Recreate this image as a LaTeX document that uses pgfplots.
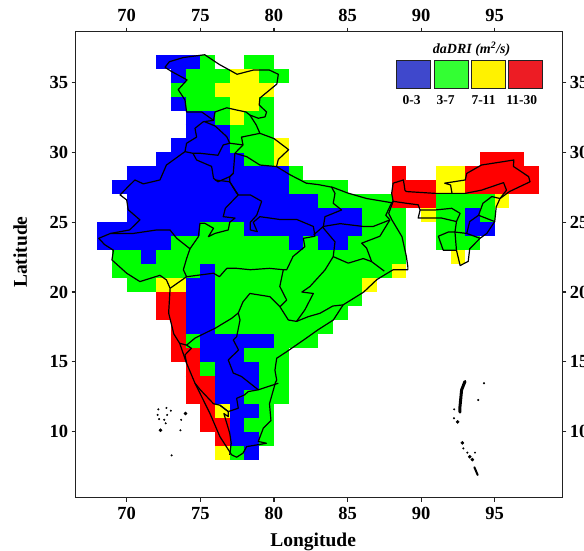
\documentclass[border=0pt]{standalone}
\usepackage{pgfplots}
\pgfplotsset{compat=1.18}
\usepackage{fontspec}
\setmainfont{Liberation Serif}
\definecolor{axc}{HTML}{222222}
\definecolor{lgb}{HTML}{3F48CC}
\definecolor{lgg}{HTML}{33FF33}
\definecolor{lgy}{HTML}{FFF200}
\definecolor{lgr}{HTML}{ED1C24}
\pgfplotsset{
 base/.style={scale only axis,width=486.7pt,height=466pt,at={(0,0)},
  xmin=66.53,xmax=99.59,ymin=5.27,ymax=38.65,
  xtick={70,75,80,85,90,95},ytick={10,15,20,25,30,35},
  tick align=outside,major tick length=4pt,
  axis line style={line width=1.5pt,axc},
  every tick/.style={line width=1.2pt,axc},
  tick label style={font=\fontsize{18.5}{20}\selectfont\bfseries,/pgf/number format/assume math mode=true},
  xtick pos=both,ytick pos=both},
 cell/.style={line width=14.1pt,line cap=butt,no markers,unbounded coords=jump},
 bd/.style={black,line width=1.2pt,no markers,line join=round},
}
\begin{document}
\begin{tikzpicture}
\begin{axis}[base,xticklabel pos=lower,yticklabel pos=left,
  xticklabel style={yshift=-2pt},
  xlabel={\fontsize{19.5}{20}\selectfont\bfseries Longitude},
  ylabel={\fontsize{19.5}{20}\selectfont\bfseries Latitude},
  xlabel style={at={(axis description cs:0.488,0)},anchor=north,yshift=-32pt},
  ylabel style={at={(axis description cs:0,0.527)},anchor=south,yshift=45pt}]
% blue
\addplot[cell,draw={rgb,255:red,0;green,0;blue,255}] coordinates {
(72,36.5)(75,36.5)(nan,nan)(73,35.5)(74,35.5)(nan,nan)(73,33.5)(74,33.5)(nan,nan)
(74,32.5)(76,32.5)(nan,nan)(74,31.5)(77,31.5)(nan,nan)(73,30.5)(77,30.5)(nan,nan)
(72,29.5)(78,29.5)(nan,nan)(70,28.5)(81,28.5)(nan,nan)(69,27.5)(81,27.5)(nan,nan)
(70,26.5)(83,26.5)(nan,nan)(70,25.5)(86,25.5)(nan,nan)(68,24.5)(75,24.5)(nan,nan)
(78,24.5)(86,24.5)(nan,nan)(68,23.5)(73,23.5)(nan,nan)(81,23.5)(82,23.5)(nan,nan)
(83,23.5)(85,23.5)(nan,nan)(71,22.5)(72,22.5)(nan,nan)(75,21.5)(76,21.5)(nan,nan)
(74,20.5)(76,20.5)(nan,nan)(74,19.5)(76,19.5)(nan,nan)(74,18.5)(76,18.5)(nan,nan)
(74,17.5)(76,17.5)(nan,nan)(75,16.5)(80,16.5)(nan,nan)(75,15.5)(78,15.5)(nan,nan)
(76,14.5)(79,14.5)(nan,nan)(76,13.5)(79,13.5)(nan,nan)(76,12.5)(78,12.5)(nan,nan)
(77,11.5)(79,11.5)(nan,nan)(77,10.5)(78,10.5)(nan,nan)(77,9.5)(79,9.5)(nan,nan)
(78,8.5)(79,8.5)(nan,nan)(93,25.5)(94,25.5)(nan,nan)(93,24.5)(95,24.5)};
% green
\addplot[cell,draw={rgb,255:red,0;green,255;blue,0}] coordinates {
(75,36.5)(76,36.5)(nan,nan)(78,36.5)(80,36.5)(nan,nan)(74,35.5)(77,35.5)(nan,nan)
(79,35.5)(81,35.5)(nan,nan)(73,34.5)(76,34.5)(nan,nan)(74,33.5)(77,33.5)(nan,nan)
(79,33.5)(80,33.5)(nan,nan)(76,32.5)(77,32.5)(nan,nan)(78,32.5)(80,32.5)(nan,nan)
(77,31.5)(80,31.5)(nan,nan)(77,30.5)(80,30.5)(nan,nan)(78,29.5)(80,29.5)(nan,nan)
(81,28.5)(82,28.5)(nan,nan)(81,27.5)(85,27.5)(nan,nan)(83,26.5)(88,26.5)(nan,nan)
(91,26.5)(95,26.5)(nan,nan)(86,25.5)(89,25.5)(nan,nan)(91,25.5)(93,25.5)(nan,nan)
(94,25.5)(95,25.5)(nan,nan)(75,24.5)(78,24.5)(nan,nan)(86,24.5)(89,24.5)(nan,nan)
(91,24.5)(93,24.5)(nan,nan)(73,23.5)(81,23.5)(nan,nan)(82,23.5)(83,23.5)(nan,nan)
(85,23.5)(89,23.5)(nan,nan)(91,23.5)(94,23.5)(nan,nan)(69,22.5)(71,22.5)(nan,nan)
(72,22.5)(89,22.5)(nan,nan)(69,21.5)(75,21.5)(nan,nan)(76,21.5)(88,21.5)(nan,nan)
(70,20.5)(72,20.5)(nan,nan)(76,20.5)(86,20.5)(nan,nan)(76,19.5)(86,19.5)(nan,nan)
(76,18.5)(85,18.5)(nan,nan)(76,17.5)(84,17.5)(nan,nan)(74,16.5)(75,16.5)(nan,nan)
(80,16.5)(83,16.5)(nan,nan)(78,15.5)(81,15.5)(nan,nan)(75,14.5)(76,14.5)(nan,nan)
(79,14.5)(81,14.5)(nan,nan)(79,13.5)(81,13.5)(nan,nan)(78,12.5)(81,12.5)(nan,nan)
(79,11.5)(80,11.5)(nan,nan)(78,10.5)(80,10.5)(nan,nan)(79,9.5)(80,9.5)(nan,nan)
(77,8.5)(78,8.5)};
% yellow
\addplot[cell,draw={rgb,255:red,255;green,255;blue,0}] coordinates {
(77,35.5)(79,35.5)(nan,nan)(76,34.5)(80,34.5)(nan,nan)(77,33.5)(79,33.5)(nan,nan)
(77,32.5)(78,32.5)(nan,nan)(80,30.5)(81,30.5)(nan,nan)(80,29.5)(81,29.5)(nan,nan)
(91,28.5)(93,28.5)(nan,nan)(91,27.5)(93,27.5)(nan,nan)(95,26.5)(96,26.5)(nan,nan)
(90,25.5)(91,25.5)(nan,nan)(92,22.5)(93,22.5)(nan,nan)(88,21.5)(89,21.5)(nan,nan)
(72,20.5)(74,20.5)(nan,nan)(86,20.5)(87,20.5)(nan,nan)(76,11.5)(77,11.5)(nan,nan)
(76,8.5)(77,8.5)};
% red
\addplot[cell,draw={rgb,255:red,255;green,0;blue,0}] coordinates {
(94,29.5)(97,29.5)(nan,nan)(88,28.5)(89,28.5)(nan,nan)(93,28.5)(98,28.5)(nan,nan)
(88,27.5)(91,27.5)(nan,nan)(93,27.5)(98,27.5)(nan,nan)(88,26.5)(91,26.5)(nan,nan)
(72,19.5)(74,19.5)(nan,nan)(72,18.5)(74,18.5)(nan,nan)(73,17.5)(74,17.5)(nan,nan)
(73,16.5)(74,16.5)(nan,nan)(73,15.5)(75,15.5)(nan,nan)(74,14.5)(75,14.5)(nan,nan)
(74,13.5)(76,13.5)(nan,nan)(74,12.5)(76,12.5)(nan,nan)(75,11.5)(76,11.5)(nan,nan)
(75,10.5)(77,10.5)(nan,nan)(76,9.5)(77,9.5)};
% outer boundary, west and north
\addplot[bd] coordinates {(72.6,36.1)(73.05,35.8)(74.1,35.2)(73.5,34.5)(73.96,33.76)(74.07,32.9)(75.1,32.9)(75.9,32.3)(75.2,32.2)(74.64,31.73)(74.75,31.1)(74.07,30.66)(73.96,30.06)(72.7,29.1)(72.26,28.03)(71.13,27.75)(70.56,28.03)(70.1,27.55)(69.55,26.96)(70,26.6)(70.1,25.9)(70.9,25.17)(70.2,24.45)(68.9,24.2)(68.1,23.85)(68.5,23.4)(69.1,23)(69,22.3)(70,21.35)(70.9,20.75)(72.26,21.2)(72.7,20.87)(72.95,20.27)};
\addplot[bd] coordinates {(72.6,36.1)(72.9,36.5)(73.85,36.8)(75.3,37)(76.3,36.3)(77.5,35.6)(78.6,35.9)(79.7,35.9)(80.3,35.6)(80.2,34.9)(79.05,33.9)(79,33.4)(79.5,32.9)(79.4,32.55)(78.94,32.45)(78.37,32.68)(78.1,32.9)(77.47,33.04)(76.8,33.2)(76,32.9)(75.9,32.3)};
% west coast and south
\addplot[bd] coordinates {(72.95,20.27)(72.85,18.5)(73.2,17)(73.6,16.33)(74.07,14.9)(74.64,13.47)(75.65,11.32)(76.33,9.65)(77.13,8.34)(77.47,8.17)(77.9,8.46)(78.15,8.93)(79.5,9.17)(78.94,9.3)(79.28,10.25)(79.8,10.8)(79.7,12)(80.1,13.5)(80.19,13.7)(80.07,14.4)(80.19,15.26)(80.87,15.73)(82.2,16.7)(83,17.3)(84.04,18)(84.7,19.08)(86.1,20)(87,20.9)(88.1,21.6)(89.1,21.6)(89.1,21.8)(89,22.54)(88.7,23.97)(88,25.2)(87.8,25.64)(88.1,26.5)(88,27.07)(88.1,27.8)(88.8,28.03)(88.9,27.3)(89,27.2)(90.95,27.07)(92.1,27.07)(92,27.67)(91.6,27.8)(93,28.03)(93.1,28.5)(94.1,29.1)(96.3,29.46)(96.27,29)(97.3,28.27)(97.4,27.9)(96,27.2)(95.36,26.7)(95.1,26.1)(95,25.05)(94.46,24.2)(94,23.85)(93.3,23.1)(93.2,22.2)(92.65,21.9)(92.4,23)(91.5,23)(91.17,24)(91.85,24.3)(92.3,24.3)(92.4,25.05)(91.4,25.3)(89.8,25.3)(89.93,25.88)(89.8,26.25)(89,26.36)(88.1,26.5)};
% Nepal border
\addplot[bd] coordinates {(80.18,28.99)(81.1,28.4)(82.2,27.8)(83,27.7)(84,27.5)(85,27.1)(86.3,26.7)(88,26.4)(88.1,26.5)};
% Uttarakhand
\addplot[bd] coordinates {(78.37,32.68)(78.8,31.97)(79.05,31.37)(80,31)(81,30.2)(80.3,29.5)(80.18,28.99)(79.05,29.1)(78.15,29.7)(77.35,29.94)(77.9,30.54)(77.8,31.1)(79.05,31.37)};
% HP, Punjab, Haryana
\addplot[bd] coordinates {(75.3,32.2)(76,31.9)(76.8,31.13)(77,30.66)(76.56,30.54)(76.2,29.8)(75,29.94)(74.5,29.94)(73.96,30.06)};
\addplot[bd] coordinates {(77,30.66)(77.9,30.54)};
\addplot[bd] coordinates {(74.5,29.94)(74.75,29.46)(75.77,29)(75.9,28.15)(76.2,27.9)(77,28.27)(77.24,28.5)(77.35,29.94)};
\addplot[bd] coordinates {(77.24,28.5)(77,28.27)(77,27.9)(77.47,27.08)(77.58,26.96)};
% Rajasthan/UP/MP
\addplot[bd] coordinates {(76,28.03)(77,27.9)(77.58,26.96)(76.7,26)(76.56,25.4)(77.36,25.3)(77,25)(76.9,24.45)(76,24.2)(75.55,23.97)(75.9,24.57)(75.3,24.93)(74.98,24.93)(74.87,23.97)(74.3,23.1)(73.4,23.85)(72.94,24.45)(72.04,24.45)(70.45,24.2)(68.9,24.2)};
\addplot[bd] coordinates {(74.3,23.1)(74.07,22.4)(73.85,21.6)(74.07,21.1)(72.95,20.27)};
\addplot[bd] coordinates {(74.07,21.1)(75.9,21.35)(76.3,21.1)(76.8,21.7)(77.47,21.7)(78.4,21.6)(79.7,21.7)(80.64,21.6)(80.4,20.4)(80.87,19.43)(80.41,18.95)(80.98,18)(81.54,17.9)(82.34,18.24)(83.13,18.48)(84,19)(84.7,19.08)};
\addplot[bd] coordinates {(77.58,26.96)(78.4,26.96)(79.17,26.5)(78.83,25.5)(78.4,25)(78.4,24.45)(78.87,24.33)(78.6,25)(79.05,25.4)(80.4,25.2)(81.55,25.2)(82.68,24.7)(82.79,24)(82,23.85)(82.1,23.25)(81.3,22.55)(80.87,21.6)(80.64,21.6)};
% UP-Bihar, Bihar-Jharkhand
\addplot[bd] coordinates {(83.9,27.55)(84.15,27.07)(84.03,26.36)(84.6,25.88)(83.47,25.4)(83.36,24.7)(82.7,24.1)};
\addplot[bd] coordinates {(83.36,24.7)(84.5,24.9)(86.07,24.7)(86.75,24.7)(87.88,25.17)};
\addplot[bd] coordinates {(87.88,25.17)(87.2,24)(85.96,23.5)(86.3,23.14)(86.64,22.18)(87.5,21.5)};
\addplot[bd] coordinates {(86.64,22.18)(86.07,22.4)(85.05,22.07)(84.03,22.54)(84.15,23.6)(83.35,24.6)(83.36,24.7)};
% Chhattisgarh-Odisha
\addplot[bd] coordinates {(84.03,22.54)(83.47,21.58)(82.45,20.4)(81.9,20)(82.68,19.9)(82.1,18.72)(81.54,17.9)};
\addplot[bd] coordinates {(88,26.4)(87.6,25.5)(87.88,25.17)};
% Maharashtra south
\addplot[bd] coordinates {(80.41,18.95)(79.73,19.67)(78.37,19.9)(77.9,19.3)(77.58,18.5)(77.7,18)(77.47,16.8)(77.24,16.57)(77.6,15.85)(76.9,15.14)(77.24,14.2)(77.8,13.95)(78.94,13)(80.3,13.47)};
\addplot[bd] coordinates {(77.58,18.5)(77.13,18.12)(76,17.4)(75.54,17.17)(74.64,16.7)(74.07,16.2)(73.6,16.33)};
% Goa, Karnataka, Kerala, TN
\addplot[bd] coordinates {(74.07,16.2)(74.4,15.97)(73.96,15.5)(74.07,14.9)};
\addplot[bd] coordinates {(78.94,13)(78.26,12.87)(78,12.63)(77.47,12.39)(77.58,11.68)(76.9,11.44)(76.33,11.9)(75.9,12)(75,13)(74.64,13.47)};
\addplot[bd] coordinates {(76.33,11.9)(76.9,11.44)(76.9,11.08)(76.6,11.3)(77,9.89)(77.1,9.17)(77,8.34)};
% North east inner
\addplot[bd] coordinates {(92.1,27.07)(93,27.07)(94.1,27.3)(95.6,27.84)(95.8,27.3)(95.36,26.7)};
\addplot[bd] coordinates {(89.93,25.88)(90.95,25.88)(92.08,26)(92.65,25.64)(92.4,25.05)};
\addplot[bd] coordinates {(95.36,26.7)(94.8,26.84)(94.2,26.36)(93.9,25.5)(93.3,25.05)(93.1,24.2)(92.3,24.3)};
\addplot[bd] coordinates {(93.9,25.5)(95,25.05)};
\addplot[bd] coordinates {(93.1,24.2)(94,23.85)};
\addplot[bd] coordinates {(92.4,23)(92.3,24.3)};
% Islands
\addplot[black,line width=3pt,no markers,line cap=round] coordinates {(92.98,13.6)(92.75,12.99)(92.64,11.8)(92.64,11.4)};
\addplot[black,line width=2pt,no markers,line cap=round] coordinates {(93.62,7.45)(93.84,6.9)};
\addplot[black,only marks,mark=*,mark size=0.8pt] coordinates {(72.15,11.6)(72.7,11.7)(73,11.5)(72.1,11.2)(72.75,11.2)(72.2,10.9)(72.55,10.85)(72.65,10.6)(73.7,10.85)(73.65,10.1)(73.05,8.3)(94.27,13.47)(93.88,12.27)(92.25,11.6)(92.23,10.96)(92.87,8.8)(93.66,8.5)(93.14,8.5)};
\addplot[black,only marks,mark=*,mark size=1.6pt] coordinates {(74,11.3)(72.3,10.1)(92.48,10.7)(92.8,9.2)(93.3,8.2)(93.48,8)};
\end{axis}
\begin{axis}[base,xticklabel pos=upper,yticklabel pos=right,axis line style={draw=none},
  xticklabel style={yshift=2pt},
  every tick/.style={draw=none}]
\end{axis}
% legend (picture coordinates: x = px-75.6, y = 497.7-py)
\begin{scope}[x=1pt,y=1pt,line width=1pt,draw=axc]
\filldraw[fill=lgb] (321.1,437) rectangle (355.1,409);
\filldraw[fill=lgg] (358.4,437) rectangle (392.4,409);
\filldraw[fill=lgy] (395.7,437) rectangle (429.7,409);
\filldraw[fill=lgr] (433.1,437) rectangle (467.1,409);
\node[font=\fontsize{14}{15}\selectfont\bfseries\itshape] at (396,448.4) {daDRI (m\textsuperscript{2}/s)};
\node[font=\fontsize{13.5}{15}\selectfont\bfseries] at (336.1,398) {0-3};
\node[font=\fontsize{13.5}{15}\selectfont\bfseries] at (369.9,398) {3-7};
\node[font=\fontsize{13.5}{15}\selectfont\bfseries] at (407.9,398) {7-11};
\node[font=\fontsize{13.5}{15}\selectfont\bfseries] at (446.1,398) {11-30};
\end{scope}
\pgfresetboundingbox
\path[use as bounding box] (-75.6pt,-52.3pt) rectangle (508.4pt,497.7pt);
\end{tikzpicture}
\end{document}
